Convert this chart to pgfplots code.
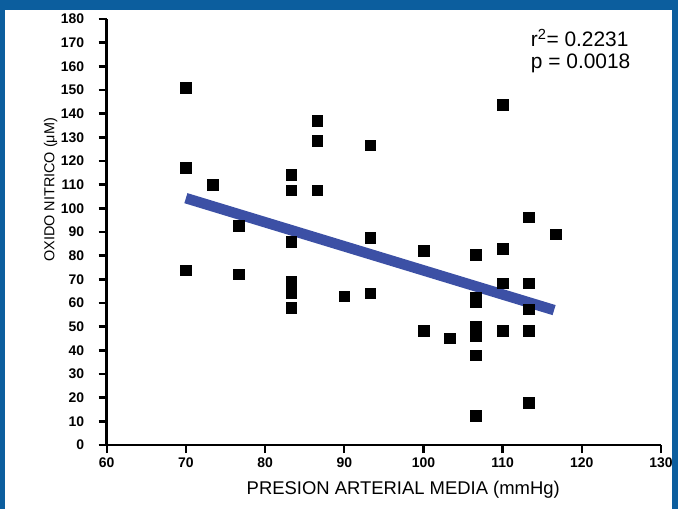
\documentclass[border=0pt]{standalone}
\usepackage{pgfplots}
\pgfplotsset{compat=1.18}
\usepackage{fontspec}
\setmainfont{Liberation Sans}
\definecolor{frameblue}{RGB}{12,94,158}
\definecolor{fitblue}{RGB}{60,80,165}

\begin{document}
\begin{tikzpicture}[x=1bp,y=1bp]
\useasboundingbox (0,0) rectangle (678,-509);
\fill[white] (0,0) rectangle (678,-509);
% blue frame of the figure
\fill[frameblue] (0,0) rectangle (678,-10);
\fill[frameblue] (0,0) rectangle (5,-509);
\fill[frameblue] (672,0) rectangle (678,-509);
\begin{axis}[
    at={(106.7bp,-445bp)}, anchor=south west,
    scale only axis,
    width=554.3bp, height=426bp,
    xmin=60, xmax=130, ymin=0, ymax=180,
    xtick={60,70,...,130},
    ytick={0,10,...,180},
    axis x line*=bottom, axis y line*=left,
    axis line style={line width=2.7bp, black},
    tick style={line width=2.4bp, black},
    tick align=outside,
    major tick length=8bp,
    /pgf/number format/assume math mode=true,
    tick label style={font=\fontsize{14}{14}\selectfont\bfseries},
    yticklabel shift=11bp,
    xticklabel shift=1bp,
    xlabel={PRESION ARTERIAL MEDIA (mmHg)},
    ylabel={OXIDO NITRICO (μM)},
    xlabel style={font=\fontsize{18.5}{18.5}\selectfont, at={(axis description cs:0.535,0)}, anchor=center, yshift=-45bp},
    ylabel style={font=\fontsize{14.5}{14.5}\selectfont, at={(axis description cs:0,0.599)}, anchor=center, yshift=56bp},
]
\addplot[only marks, mark=square*, mark size=5.3bp, black] coordinates {
    (70,151) (70,117.2) (70,73.9)
    (73.4,110)
    (76.7,92.7) (76.7,72.2)
    (83.3,114.2) (83.3,107.7) (83.3,85.8) (83.3,69) (83.3,64.1) (83.3,58)
    (86.6,137) (86.6,128.7) (86.6,107.7)
    (90,62.9)
    (93.3,126.7) (93.3,87.6) (93.3,64.1)
    (100,82) (100,48.2)
    (103.3,45.1)
    (106.6,80.3) (106.6,62.5) (106.6,60.5) (106.6,50) (106.6,48) (106.6,46) (106.6,38) (106.6,12.4)
    (110,143.9) (110,82.9) (110,68.3) (110,48.2)
    (113.3,96.2) (113.3,68.3) (113.3,57.3) (113.3,48.2) (113.3,18)
    (116.7,89)
};
% regression line
\addplot[fitblue, line width=10.5bp, line cap=butt] coordinates {(70,104.3) (116.5,57)};
\end{axis}
\node[anchor=base west, inner sep=0, font=\fontsize{21}{21}\selectfont] at (530.7,-46.7) {r\textsuperscript{2}= 0.2231};
\node[anchor=base west, inner sep=0, font=\fontsize{21}{21}\selectfont] at (530.7,-68.3) {p = 0.0018};
\end{tikzpicture}
\end{document}
